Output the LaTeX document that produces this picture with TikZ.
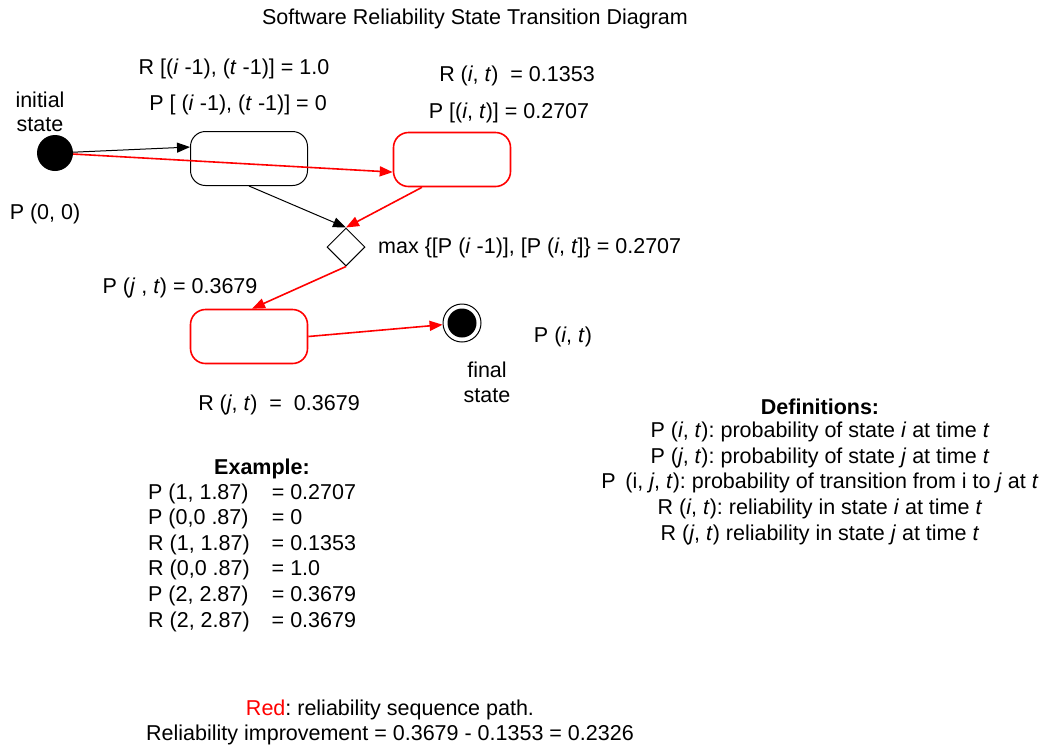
\documentclass[tikz,border=0pt]{standalone}
\usepackage{fontspec}
\setmainfont{Liberation Sans}
\usetikzlibrary{arrows.meta,shapes.geometric}
\frenchspacing
\tikzset{
  statebox/.style={draw, line width=1pt, rounded corners=15pt, minimum width=117pt, minimum height=54pt, inner sep=0pt},
  redbox/.style={statebox, draw=red, line width=1.6pt},
  blkarrow/.style={draw=black, line width=1pt, -{Triangle[length=13pt,width=10pt]}},
  redarrow/.style={draw=red, line width=1.6pt, -{Triangle[length=13pt,width=10pt]}, color=red},
  txt/.style={inner sep=0pt, anchor=base},
}
\begin{document}
\begin{tikzpicture}[x=1pt, y=-1pt, font=\fontsize{21.5}{25.6}\selectfont]
\useasboundingbox (0,0) rectangle (1040,748);

% title
\node[txt] (title) at (475,24) {Software Reliability State Transition Diagram};

% initial pseudo-state
\node[circle, fill=black, minimum size=36pt, inner sep=0pt] (init) at (55,153) {};
\node[txt] (initA) at (40,107) {initial};
\node[txt] (initB) at (40,131) {state};
\node[txt] (p00) at (45,219) {P (0, 0)};

% states
\node[statebox] (box1) at (249,158.5) {};
\node[redbox] (box2) at (452,159.5) {};
\node[redbox] (box3) at (249,336.5) {};

% decision
\node[diamond, draw, line width=1pt, aspect=1, minimum width=38pt, minimum height=38pt, inner sep=0pt] (dia) at (346,247) {};

% final pseudo-state
\node[circle, draw, line width=1pt, minimum size=38pt, inner sep=0pt] (final) at (462,323) {};
\node[circle, fill=black, minimum size=29pt, inner sep=0pt] (finalcore) at (final.center) {};

% state labels
\node[txt] (r1) at (234,74) {R [(\textit{i} -1), (\textit{t} -1)] = 1.0};
\node[txt] (p1) at (238,110) {P [ (\textit{i} -1), (\textit{t} -1)] = 0};
\node[txt] (r2) at (517,81) {R (\textit{i}, \textit{t})~ = 0.1353};
\node[txt] (p2) at (509,118) {P [(\textit{i}, \textit{t})] = 0.2707};
\node[txt, anchor=base west] (mx) at (378,253) {max \{[P (\textit{i} -1)], [P (\textit{i}, \textit{t}]\} = 0.2707};
\node[txt] (pj) at (180,293) {P (\textit{j} , \textit{t}) = 0.3679};
\node[txt] (pit) at (563,342) {P (\textit{i}, \textit{t})};
\node[txt] (finA) at (487,377) {final};
\node[txt] (finB) at (487,402) {state};
\node[txt] (rj) at (279,410) {R (\textit{j}, \textit{t})~ =~ 0.3679};

% transitions
\draw[blkarrow] (init) -- (box1.169);
\draw[redarrow] (init) -- (box2.192);
\draw[blkarrow] (box1.south) -- (dia.north);
\draw[redarrow] ([xshift=-30pt]box2.south) -- (dia.north);
\draw[redarrow] (dia.south) -- ([xshift=3pt]box3.north);
\draw[redarrow] (box3.east) -- (final);

% definitions
\node[txt] (defh) at (820,414) {\textbf{Definitions:}};
\node[inner sep=0pt, anchor=north, align=center] (defs) at (820,422) {%
P (\textit{i}, \textit{t}): probability of state \textit{i} at time \textit{t}\\
P (\textit{j}, \textit{t}): probability of state \textit{j} at time \textit{t}\\
P\hspace{0.45em}(i, \textit{j}, \textit{t}): probability of transition from i to \textit{j} at \textit{t}\\
R (\textit{i}, \textit{t}): reliability in state \textit{i} at time \textit{t}\\
R (\textit{j}, \textit{t}) reliability in state \textit{j} at time \textit{t}};

% example
\node[txt] (exh) at (262,474) {\textbf{Example:}};
\node[inner sep=0pt, anchor=north west] (ex) at (148,481) {%
\begin{tabular}{@{}l@{\hspace{22pt}}l@{}}
P (1, 1.87) & = 0.2707\\
P (0,0 .87) & = 0\\
R (1, 1.87) & = 0.1353\\
R (0,0 .87) & = 1.0\\
P (2, 2.87) & = 0.3679\\
R (2, 2.87) & = 0.3679
\end{tabular}};

% legend
\node[txt] (leg1) at (390,715) {\textcolor{red}{Red}: reliability sequence path.};
\node[txt] (leg2) at (390,740) {Reliability improvement = 0.3679 - 0.1353 = 0.2326};
\end{tikzpicture}
\end{document}
